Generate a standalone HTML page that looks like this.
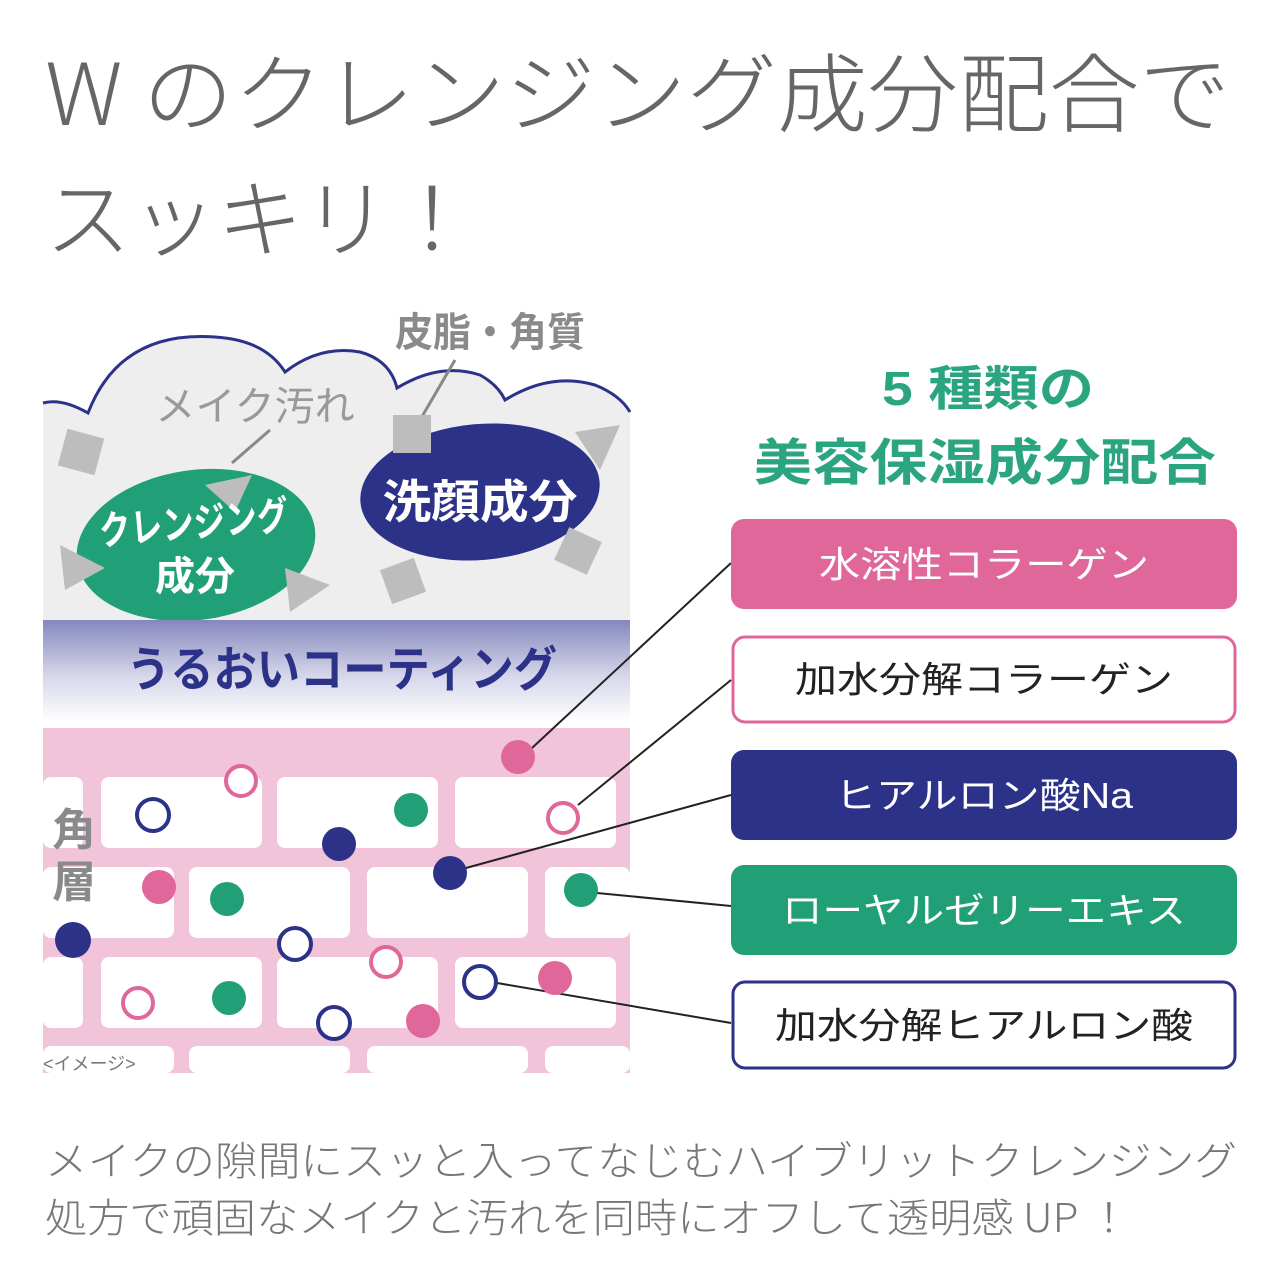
<!DOCTYPE html>
<html><head><meta charset="utf-8"><style>
html,body{margin:0;padding:0;background:#fff;}
svg{display:block;}
text{font-family:"Liberation Sans","Noto Sans CJK JP",sans-serif;}
text.thin{font-family:"Noto Sans CJK JP",sans-serif;font-weight:300;}
</style></head><body>
<svg width="1280" height="1280" viewBox="0 0 1280 1280" xmlns="http://www.w3.org/2000/svg">
<defs>
<linearGradient id="coat" x1="0" y1="0" x2="0" y2="1">
<stop offset="0" stop-color="#8587bd"/><stop offset="0.55" stop-color="#d6d7ea"/><stop offset="1" stop-color="#ffffff"/>
</linearGradient>
</defs>
<!-- Title -->
<text class="thin" x="45" y="125" font-size="86" fill="#666" textLength="1185" lengthAdjust="spacingAndGlyphs">W のクレンジング成分配合で</text>
<text class="thin" x="45" y="250" font-size="86" fill="#666" textLength="430" lengthAdjust="spacingAndGlyphs">スッキリ！</text>

<!-- cloud region -->
<path d="M43 403 Q62 398 88 413 Q120 330 215 337 Q265 340 285 372 Q320 345 360 352 Q390 360 397 388 Q440 362 480 375 Q498 385 505 400 Q550 372 595 385 Q620 395 630 412 L630 622 L43 622 Z" fill="#eeeeef"/>
<path d="M43 403 Q62 398 88 413 Q120 330 215 337 Q265 340 285 372 Q320 345 360 352 Q390 360 397 388 Q440 362 480 375 Q498 385 505 400 Q550 372 595 385 Q620 395 630 412" fill="none" stroke="#2b3288" stroke-width="3"/>

<rect x="62" y="433" width="38" height="38" fill="#bdbdbd" transform="rotate(15 81 452)"/>
<polygon points="575,432 620,425 600,470" fill="#bdbdbd"/>
<line x1="455" y1="360" x2="420" y2="420" stroke="#888" stroke-width="3"/>
<line x1="270" y1="430" x2="232" y2="463" stroke="#888" stroke-width="3"/>

<!-- green ellipse -->
<ellipse cx="196" cy="545" rx="120" ry="75" fill="#21a078" transform="rotate(-8 196 545)"/>
<polygon points="205,485 252,475 235,512" fill="#bdbdbd"/>
<polygon points="60,545 105,568 65,590" fill="#bdbdbd"/>
<polygon points="285,568 330,585 290,612" fill="#bdbdbd"/>
<text x="195" y="537" font-size="40" font-weight="700" fill="#fff" text-anchor="middle" textLength="190" lengthAdjust="spacingAndGlyphs" transform="rotate(-5 195 537)">クレンジング</text>
<text x="195" y="590" font-size="40" font-weight="700" fill="#fff" text-anchor="middle">成分</text>

<!-- navy ellipse -->
<ellipse cx="480" cy="492" rx="120" ry="68" fill="#2b3288" transform="rotate(-5 480 492)"/>
<rect x="393" y="415" width="38" height="38" fill="#bdbdbd"/>
<rect x="385" y="563" width="36" height="36" fill="#bdbdbd" transform="rotate(-20 403 581)"/>
<rect x="560" y="533" width="36" height="36" fill="#bdbdbd" transform="rotate(25 578 551)"/>
<text x="480" y="518" font-size="46" font-weight="700" fill="#fff" text-anchor="middle" textLength="195" lengthAdjust="spacingAndGlyphs">洗顔成分</text>

<text x="255" y="420" font-size="40" fill="#999" text-anchor="middle">メイク汚れ</text>
<text x="490" y="346" font-size="40" font-weight="700" fill="#8a8a8a" text-anchor="middle" textLength="190" lengthAdjust="spacingAndGlyphs">皮脂・角質</text>

<!-- coating -->
<rect x="43" y="620" width="587" height="102" fill="url(#coat)"/>
<text x="342" y="686" font-size="48" font-weight="700" fill="#2b3288" text-anchor="middle" textLength="430" lengthAdjust="spacingAndGlyphs">うるおいコーティング</text>

<!-- bricks -->
<rect x="43" y="728" width="587" height="345" fill="#f1c4d9"/>
<g fill="#fff">
<rect x="43" y="777" width="40" height="71" rx="8"/>
<rect x="101" y="777" width="161" height="71" rx="8"/>
<rect x="277" y="777" width="161" height="71" rx="8"/>
<rect x="455" y="777" width="161" height="71" rx="8"/>
<rect x="43" y="867" width="131" height="71" rx="8"/>
<rect x="189" y="867" width="161" height="71" rx="8"/>
<rect x="367" y="867" width="161" height="71" rx="8"/>
<rect x="545" y="867" width="85" height="71" rx="8"/>
<rect x="43" y="957" width="40" height="71" rx="8"/>
<rect x="101" y="957" width="161" height="71" rx="8"/>
<rect x="277" y="957" width="161" height="71" rx="8"/>
<rect x="455" y="957" width="161" height="71" rx="8"/>
<rect x="43" y="1046" width="131" height="27" rx="8"/>
<rect x="189" y="1046" width="161" height="27" rx="8"/>
<rect x="367" y="1046" width="161" height="27" rx="8"/>
<rect x="545" y="1046" width="85" height="27" rx="8"/>
</g>
<text x="74" y="845" font-size="44" font-weight="700" fill="#8a8a8a" text-anchor="middle">角</text>
<text x="74" y="897" font-size="44" font-weight="700" fill="#8a8a8a" text-anchor="middle">層</text>
<text x="43" y="1070" font-size="18" fill="#777">&lt;イメージ&gt;</text>

<!-- connector lines -->
<g stroke="#222" stroke-width="2">
<line x1="532" y1="748" x2="731" y2="563"/>
<line x1="578" y1="805" x2="731" y2="680"/>
<line x1="466" y1="868" x2="731" y2="795"/>
<line x1="597" y1="893" x2="731" y2="906"/>
<line x1="497" y1="983" x2="731" y2="1023"/>
</g>

<!-- dots -->
<g>
<circle cx="518" cy="757" r="17" fill="#e0679a"/>
<circle cx="159" cy="887" r="17" fill="#e0679a"/>
<circle cx="555" cy="978" r="17" fill="#e0679a"/>
<circle cx="423" cy="1021" r="17" fill="#e0679a"/>
<circle cx="411" cy="810" r="17" fill="#21a078"/>
<circle cx="227" cy="899" r="17" fill="#21a078"/>
<circle cx="581" cy="890" r="17" fill="#21a078"/>
<circle cx="229" cy="998" r="17" fill="#21a078"/>
<circle cx="339" cy="844" r="17" fill="#2b3288"/>
<circle cx="450" cy="873" r="17" fill="#2b3288"/>
<circle cx="73" cy="940" r="18" fill="#2b3288"/>
</g>
<g fill="#fff" stroke-width="4">
<circle cx="241" cy="781" r="15" stroke="#e0679a"/>
<circle cx="563" cy="818" r="15" stroke="#e0679a"/>
<circle cx="386" cy="962" r="15" stroke="#e0679a"/>
<circle cx="138" cy="1003" r="15" stroke="#e0679a"/>
<circle cx="153" cy="815" r="16" stroke="#2b3288"/>
<circle cx="295" cy="944" r="16" stroke="#2b3288"/>
<circle cx="480" cy="982" r="16" stroke="#2b3288"/>
<circle cx="334" cy="1023" r="16" stroke="#2b3288"/>
</g>

<!-- right header -->
<text x="988" y="405" font-size="48" font-weight="700" fill="#2aa57f" text-anchor="middle" textLength="212" lengthAdjust="spacingAndGlyphs">5 種類の</text>
<text x="985" y="480" font-size="50" font-weight="700" fill="#2aa57f" text-anchor="middle" textLength="462" lengthAdjust="spacingAndGlyphs">美容保湿成分配合</text>

<!-- label boxes -->
<rect x="731" y="519" width="506" height="90" rx="13" fill="#e0679a"/>
<text x="984" y="577" font-size="36" fill="#fff" text-anchor="middle" textLength="330" lengthAdjust="spacingAndGlyphs">水溶性コラーゲン</text>
<rect x="733" y="637" width="502" height="85" rx="12" fill="#fff" stroke="#e0679a" stroke-width="3"/>
<text x="984" y="692" font-size="36" fill="#222" text-anchor="middle" textLength="378" lengthAdjust="spacingAndGlyphs">加水分解コラーゲン</text>
<rect x="731" y="750" width="506" height="90" rx="13" fill="#2b3288"/>
<text x="984" y="808" font-size="36" fill="#fff" text-anchor="middle" textLength="298" lengthAdjust="spacingAndGlyphs">ヒアルロン酸Na</text>
<rect x="731" y="865" width="506" height="90" rx="13" fill="#21a078"/>
<text x="984" y="923" font-size="36" fill="#fff" text-anchor="middle" textLength="404" lengthAdjust="spacingAndGlyphs">ローヤルゼリーエキス</text>
<rect x="733" y="982" width="502" height="86" rx="12" fill="#fff" stroke="#2b3288" stroke-width="3"/>
<text x="984" y="1038" font-size="36" fill="#222" text-anchor="middle" textLength="418" lengthAdjust="spacingAndGlyphs">加水分解ヒアルロン酸</text>

<!-- footer -->
<text class="thin" x="45" y="1175" font-size="40" fill="#777" textLength="1192" lengthAdjust="spacingAndGlyphs">メイクの隙間にスッと入ってなじむハイブリットクレンジング</text>
<text class="thin" x="45" y="1232" font-size="40" fill="#777" textLength="1085" lengthAdjust="spacingAndGlyphs">処方で頑固なメイクと汚れを同時にオフして透明感 UP ！</text>
</svg>
</body></html>
